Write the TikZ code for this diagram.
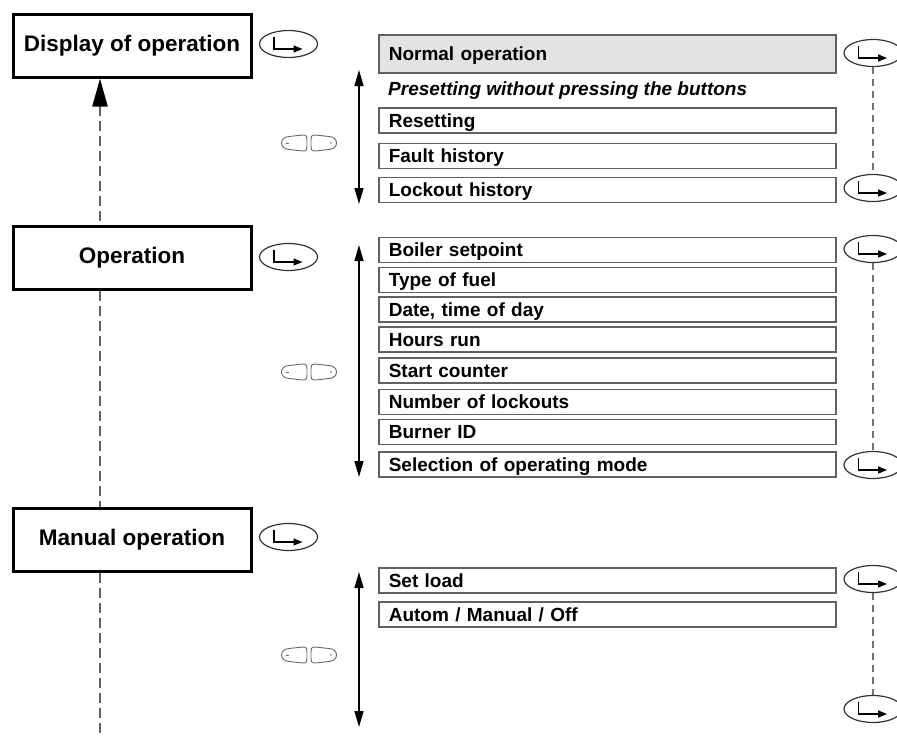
\documentclass[tikz,border=0pt]{standalone}
\usepackage{fontspec}
\setmainfont{Liberation Sans}
\usetikzlibrary{arrows.meta,shapes.geometric,calc}
\newcommand\btnnode[2]{%
  \node[btn] (#1) at (#2) {};
  \draw[black,line width=1.3,-{Triangle[length=9,width=7]}]
    ([shift={(-14.5,-7)}]#1.center) -- ([shift={(-14.5,5)}]#1.center) -- ([shift={(14,5)}]#1.center);
}
\tikzset{pics/scrollicon/.style={code={
  \draw[black!60,line width=0.9]
    (-6,-8) .. controls (-2,-8) and (-2,-6) .. (-2,-3) -- (-2,3)
    .. controls (-2,6) and (-2,8) .. (-6,8) -- (-20,6.5)
    .. controls (-30,6) and (-30,-6) .. (-20,-6.5) -- cycle;
  \draw[black!60,line width=0.9]
    (6,-8) .. controls (2,-8) and (2,-6) .. (2,-3) -- (2,3)
    .. controls (2,6) and (2,8) .. (6,8) -- (20,6.5)
    .. controls (30,6) and (30,-6) .. (20,-6.5) -- cycle;
  \draw[black!60,line width=0.7] (-23,0) -- (-20,0);
  \fill[black!60] (22,0) circle (0.9);
}}}
\begin{document}
\begin{tikzpicture}[x=1pt,y=-1pt,
  lbox/.style={draw=black,line width=3,minimum width=238,minimum height=63,inner sep=0,
    font=\fontsize{22.5}{27}\selectfont\bfseries},
  rbox/.style={draw=black!62,line width=1.6,minimum width=457,minimum height=25,
    inner xsep=10,inner ysep=0,text width=437,align=left,text height=13.6,text depth=0,
    font=\fontsize{19}{22}\selectfont\bfseries,anchor=west},
  btn/.style={draw=black!80,line width=1.2,ellipse,minimum width=58,minimum height=27,inner sep=0},
  lnk/.style={draw=black!55,line width=1.3,dash pattern=on 7 off 5},
  mainlnk/.style={draw=black!62,line width=2.2,dash pattern=on 10 off 5},
  scroll/.style={draw=black,line width=1.4,{Triangle[length=16,width=9]}-{Triangle[length=16,width=9]}},
]
\useasboundingbox (0,0) rectangle (897,737);
\clip (0,0) rectangle (897,737);

% left column
\node[lbox] (disp) at (132,45.5) {Display of operation};
\node[lbox] (op) at (132,258) {Operation};
\node[lbox] (man) at (132,539.5) {Manual operation};
\btnnode{bd}{288.5,44}
\btnnode{bo}{288.5,257}
\btnnode{bm}{288.5,537}

\coordinate (lx) at (100,0);
\coordinate (lend) at (100,737);
\draw[mainlnk,{Triangle[length=28,width=15,color=black]}-] (disp.south -| lx) -- (op.north -| lx);
\draw[mainlnk] (op.south -| lx) -- (man.north -| lx);
\draw[mainlnk] (man.south -| lx) -- (lend);

% scroll icons and arrows
\pic at (309,143) {scrollicon};
\pic at (309,372) {scrollicon};
\pic at (309,655) {scrollicon};
\coordinate (a1t) at (359,70);  \coordinate (a1b) at (359,204);
\coordinate (a2t) at (359,245); \coordinate (a2b) at (359,477);
\coordinate (a3t) at (359,572); \coordinate (a3b) at (359,727);
\draw[scroll] (a1t) -- (a1b);
\draw[scroll] (a2t) -- (a2b);
\draw[scroll] (a3t) -- (a3b);

% right column, group 1
\node[rbox,fill=black!11,minimum height=38] (n1) at (378,54) {Normal operation};
\node[anchor=west,inner sep=0,font=\fontsize{19}{22}\selectfont\bfseries\itshape] (pre) at (388,91) {Presetting without pressing the buttons};
\node[rbox] (n2) at (378,120.5) {Resetting};
\node[rbox] (n3) at (378,156) {Fault history};
\node[rbox] (n4) at (378,190) {Lockout history};
\btnnode{r1}{873,53}
\btnnode{r2}{873,188}
\draw[lnk] (r1.south) -- (r2.north);

% group 2
\node[rbox] (o1) at (378,250) {Boiler setpoint};
\node[rbox] (o2) at (378,280) {Type of fuel};
\node[rbox] (o3) at (378,309.5) {Date, time of day};
\node[rbox] (o4) at (378,339.5) {Hours run};
\node[rbox] (o5) at (378,370.5) {Start counter};
\node[rbox] (o6) at (378,402) {Number of lockouts};
\node[rbox] (o7) at (378,432) {Burner ID};
\node[rbox] (o8) at (378,464.5) {Selection of operating mode};
\btnnode{r3}{873,249}
\btnnode{r4}{873,465}
\draw[lnk] (r3.south) -- (r4.north);

% group 3
\node[rbox] (m1) at (378,580.5) {Set load};
\node[rbox] (m2) at (378,614.5) {Autom / Manual / Off};
\btnnode{r5}{873,579}
\btnnode{r6}{873,709}
\draw[lnk] (r5.south) -- (r6.north);
\end{tikzpicture}
\end{document}
